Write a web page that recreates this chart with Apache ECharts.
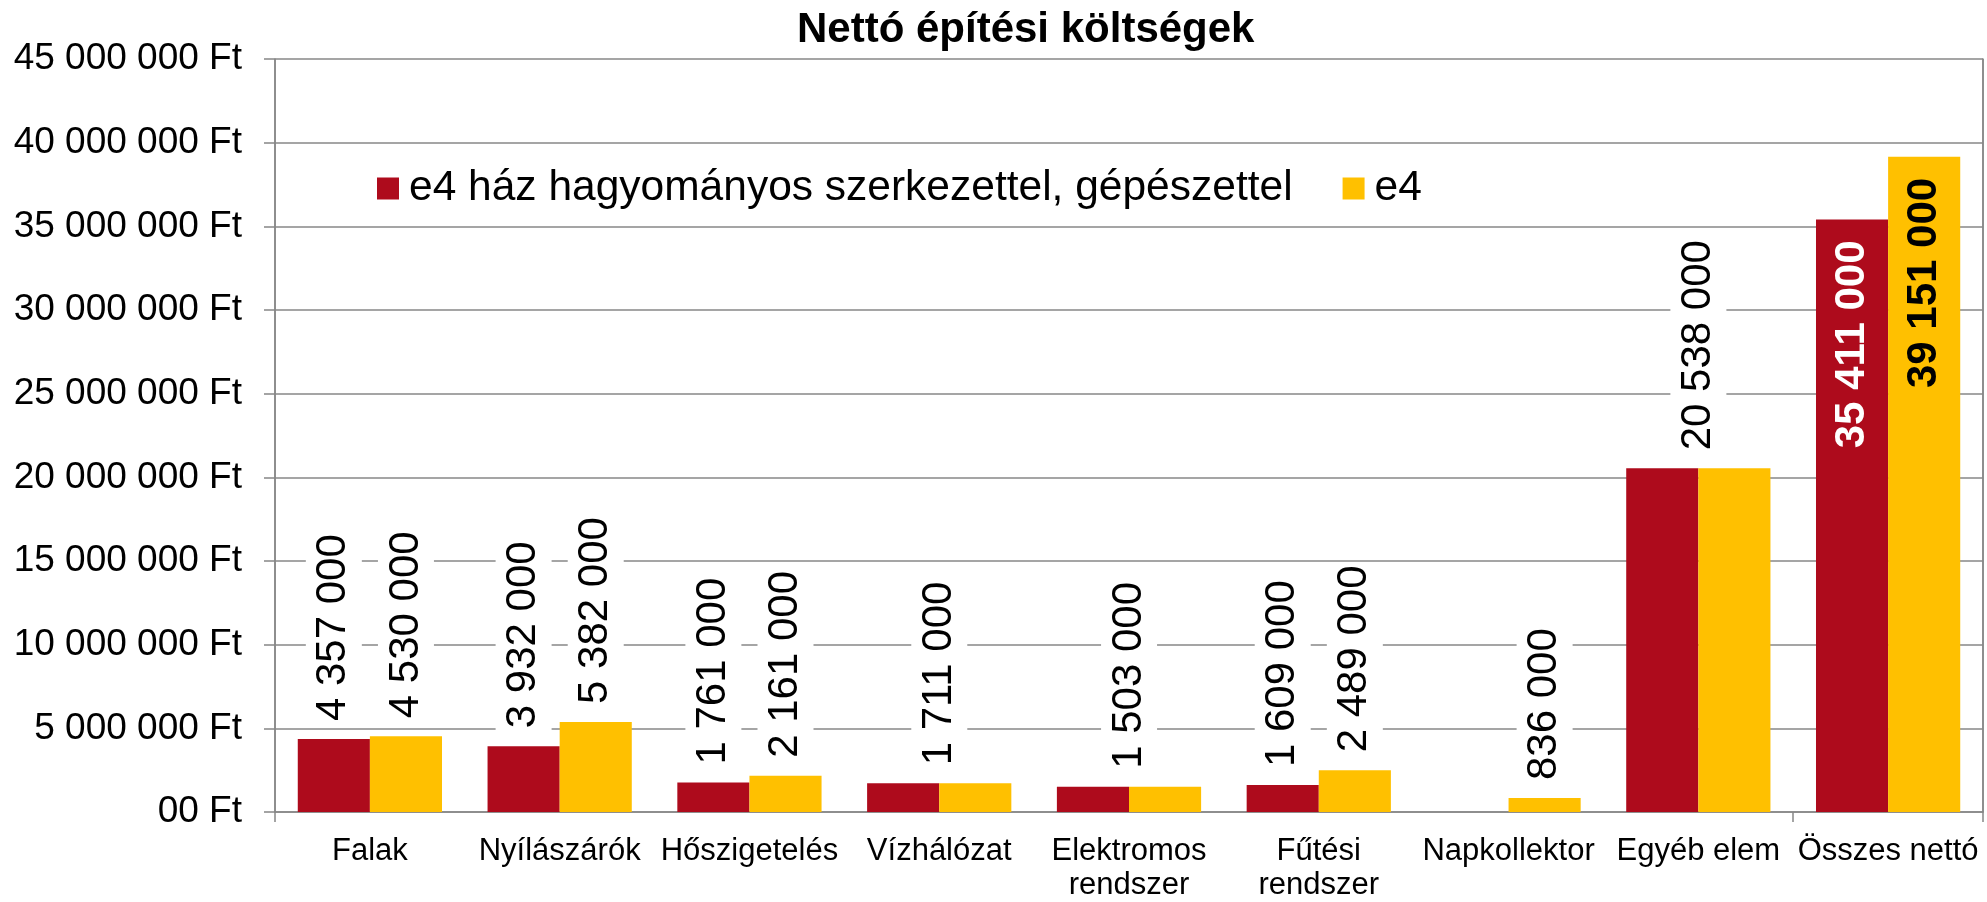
<!DOCTYPE html>
<html>
<head>
<meta charset="utf-8">
<title>Nettó építési költségek</title>
<script src="https://cdn.jsdelivr.net/npm/echarts@6/dist/echarts.min.js"></script>
<style>
  html, body { margin: 0; padding: 0; background: #fff; }
  #chart { width: 1987px; height: 902px; }
</style>
</head>
<body>
<div id="chart"></div>
<script>
// adatok
const categories = ['Falak', 'Nyílászárók', 'Hőszigetelés', 'Vízhálózat', 'Elektromos\nrendszer', 'Fűtési\nrendszer', 'Napkollektor', 'Egyéb elem', 'Összes nettó'];
const seriesNames = ['e4 ház hagyományos szerkezettel, gépészettel', 'e4'];
const hagyomanyos = [4357000, 3932000, 1761000, 1711000, 1503000, 1609000, 0, 20538000, 35411000];
const e4 = [4530000, 5382000, 2161000, 1711000, 1503000, 2489000, 836000, 20538000, 39151000];

const RED = '#AE0B1C';
const YELLOW = '#FFC000';
const GRID = '#878787';
const FONT = 'Liberation Sans, Arial, sans-serif';

const fmt = function (v) {
  return String(v).replace(/\B(?=(\d{3})+(?!\d))/g, ' ');
};

// felirat a rúd felett, függőlegesen
const topLabel = {
  show: true,
  position: 'top',
  rotate: 90,
  align: 'left',
  verticalAlign: 'middle',
  distance: 16,
  fontFamily: FONT,
  fontSize: 42,
  color: '#000',
  backgroundColor: '#fff',
  lineHeight: 56,
  padding: [0, 2],
  formatter: function (p) { return fmt(p.value); }
};

// felirat a rúd belsejében (Összes nettó)
const insideLabel = function (color) {
  return {
    show: true,
    position: 'insideTop',
    rotate: 90,
    align: 'right',
    verticalAlign: 'middle',
    distance: 19,
    fontFamily: FONT,
    fontSize: 42,
    fontWeight: 'bold',
    color: color,
    backgroundColor: 'transparent'
  };
};

const last = categories.length - 1;

const redData = hagyomanyos.map(function (v, i) {
  if (i === last) return { value: v, label: insideLabel('#fff') };
  if (v === 0 || v === e4[i]) return { value: v, label: { show: false } };
  return v;
});

// egyforma értékeknél egy felirat a kategória közepén
const yellowData = e4.map(function (v, i) {
  if (i === last) return { value: v, label: insideLabel('#000') };
  if (v === hagyomanyos[i]) return { value: v, label: { offset: [0, -36] } };
  return v;
});

const chart = echarts.init(document.getElementById('chart'), null, { renderer: 'canvas' });

const option = {
  backgroundColor: '#fff',
  animation: false,
  title: {
    text: 'Nettó építési költségek',
    left: 792,
    top: 4,
    textStyle: { fontFamily: FONT, fontSize: 42, fontWeight: 'bold', color: '#000' }
  },
  legend: {
    left: 377,
    top: 167,
    padding: 0,
    itemWidth: 22,
    itemHeight: 22,
    itemGap: 50,
    icon: 'rect',
    textStyle: { fontFamily: FONT, fontSize: 42.5, color: '#000', padding: [0, 0, 0, 5] },
    data: seriesNames
  },
  grid: { left: 275, right: 4, top: 59, bottom: 88 },
  xAxis: {
    type: 'category',
    data: categories,
    axisLine: { lineStyle: { color: GRID, width: 1.5 } },
    axisTick: {
      show: true,
      length: 10,
      interval: function (idx) { return idx === 0 || idx === last; },
      lineStyle: { color: GRID, width: 1.5 }
    },
    splitLine: {
      show: true,
      interval: function (idx) { return idx === last; },
      lineStyle: { color: GRID, width: 1.5 }
    },
    axisLabel: {
      fontFamily: FONT,
      fontSize: 31,
      lineHeight: 34,
      color: '#000',
      margin: 22,
      interval: 0
    }
  },
  yAxis: [{
    type: 'value',
    min: 0,
    max: 45000000,
    interval: 5000000,
    axisLine: { show: true, lineStyle: { color: GRID, width: 1.5 } },
    axisTick: { show: true, length: 11, lineStyle: { color: GRID, width: 1.5 } },
    splitLine: { lineStyle: { color: GRID, width: 1.5 } },
    axisLabel: {
      fontFamily: FONT,
      fontSize: 37,
      color: '#000',
      margin: 33,
      formatter: function (v) { return v === 0 ? '00 Ft' : fmt(v) + ' Ft'; }
    }
  }, {
    type: 'value',
    position: 'right',
    min: 0,
    max: 45000000,
    interval: 5000000,
    axisLine: { show: true, lineStyle: { color: GRID, width: 1.5 } },
    axisTick: { show: false },
    axisLabel: { show: false },
    splitLine: { show: false }
  }],
  series: [{
    name: seriesNames[0],
    type: 'bar',
    barGap: 0,
    barCategoryGap: '24%',
    itemStyle: { color: RED },
    label: topLabel,
    data: redData
  }, {
    name: seriesNames[1],
    type: 'bar',
    barGap: 0,
    barCategoryGap: '24%',
    itemStyle: { color: YELLOW },
    label: topLabel,
    data: yellowData
  }]
};

chart.setOption(option);
</script>
</body>
</html>
